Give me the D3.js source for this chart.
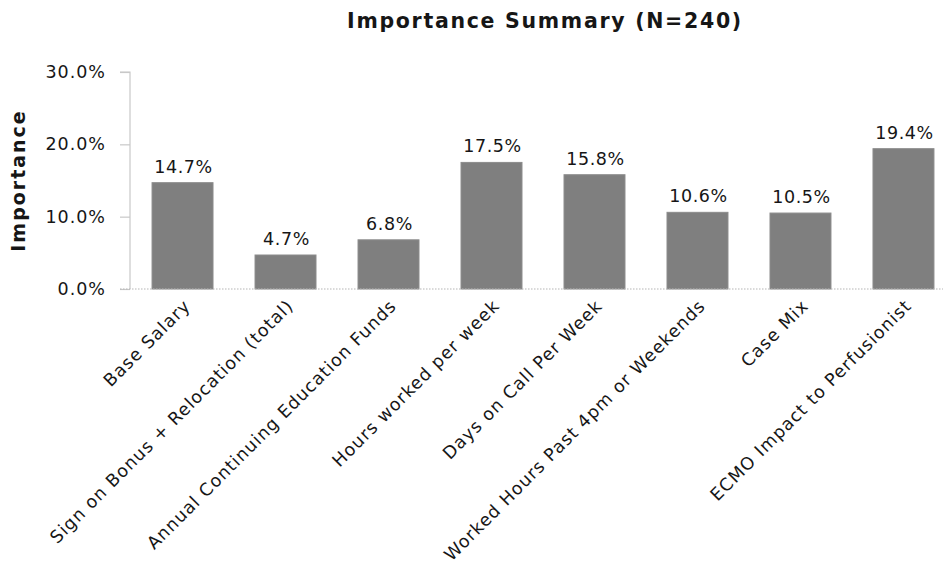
<!DOCTYPE html>
<html>
<head>
<meta charset="utf-8">
<script src="https://cdn.jsdelivr.net/npm/d3@7"></script>
<style>
  body { margin: 0; background: #fff; }
  svg text { font-family: "DejaVu Sans", Verdana, sans-serif; fill: #161616; }
</style>
</head>
<body>
<svg id="chart" width="943" height="568"></svg>
<script>
// Survey factors and their share of importance (percent)
const categories = [
  "Base Salary",
  "Sign on Bonus + Relocation (total)",
  "Annual Continuing Education Funds",
  "Hours worked per week",
  "Days on Call Per Week",
  "Worked Hours Past 4pm or Weekends",
  "Case Mix",
  "ECMO Impact to Perfusionist"
];
const importance = [14.7, 4.7, 6.8, 17.5, 15.8, 10.6, 10.5, 19.4];
const yTicks = [0, 10, 20, 30];
const title = "Importance Summary (N=240)";
const yLabel = "Importance";

const svg = d3.select("#chart");
const W = 943;
const plot = { left: 130, top: 72, bottom: 289 };

const x = d3.scaleBand()
  .domain(categories)
  .range([plot.left, 956])
  .paddingInner(0.408)
  .paddingOuter(0.214);

const y = d3.scaleLinear()
  .domain([0, 30])
  .range([plot.bottom, plot.top]);

// Title
svg.append("text")
  .attr("x", 545).attr("y", 28)
  .attr("text-anchor", "middle")
  .style("font-size", "20.5px").style("font-weight", "bold")
  .style("letter-spacing", "1.7px")
  .text(title);

// Y axis title
svg.append("text")
  .attr("transform", `translate(25,${(plot.top + plot.bottom) / 2}) rotate(-90)`)
  .attr("text-anchor", "middle")
  .style("font-size", "19px").style("font-weight", "bold")
  .style("letter-spacing", "2px")
  .text(yLabel);

// Y axis
const yAxis = svg.append("g")
  .attr("transform", `translate(${plot.left},0)`)
  .call(d3.axisLeft(y).tickValues(yTicks).tickSize(10).tickPadding(14)
    .tickFormat(d => d.toFixed(1) + "%"));
yAxis.select(".domain").attr("stroke", "#c8c8c8").attr("stroke-width", 1.2)
  .attr("d", `M-10,${plot.top}H0V${plot.bottom}`);
yAxis.selectAll(".tick line").attr("stroke", "#c8c8c8").attr("stroke-width", 1.2);
yAxis.selectAll(".tick text").style("font-size", "17.5px")
  .style("letter-spacing", "1px").attr("fill", "#161616");

// Bars
svg.append("g").selectAll("rect")
  .data(importance)
  .join("rect")
  .attr("x", (d, i) => x(categories[i]))
  .attr("width", x.bandwidth())
  .attr("y", d => y(d))
  .attr("height", d => y(0) - y(d))
  .attr("fill", "#7f7f7f")
  .attr("stroke", "#8c8c8c")
  .attr("stroke-width", 1);

// Value labels
svg.append("g").selectAll("text")
  .data(importance)
  .join("text")
  .attr("x", (d, i) => x(categories[i]) + x.bandwidth() / 2 + 1)
  .attr("y", d => y(d) - 10)
  .attr("text-anchor", "middle")
  .style("font-size", "17.5px")
  .style("letter-spacing", "0.6px")
  .text(d => d.toFixed(1) + "%");

// Dotted baseline
svg.append("line")
  .attr("x1", plot.left - 10).attr("x2", W)
  .attr("y1", y(0)).attr("y2", y(0))
  .attr("stroke", "#b5b5b5").attr("stroke-width", 1.2)
  .attr("stroke-dasharray", "1.5,1.5");

// Category labels, rotated
svg.append("g").selectAll("text")
  .data(categories)
  .join("text")
  .attr("transform", d => `translate(${x(d) + x.bandwidth() / 2 + 9},${plot.bottom + 18}) rotate(-45)`)
  .attr("text-anchor", "end")
  .style("font-size", "17.5px")
  .style("letter-spacing", "1px")
  .text(d => d);
</script>
</body>
</html>
